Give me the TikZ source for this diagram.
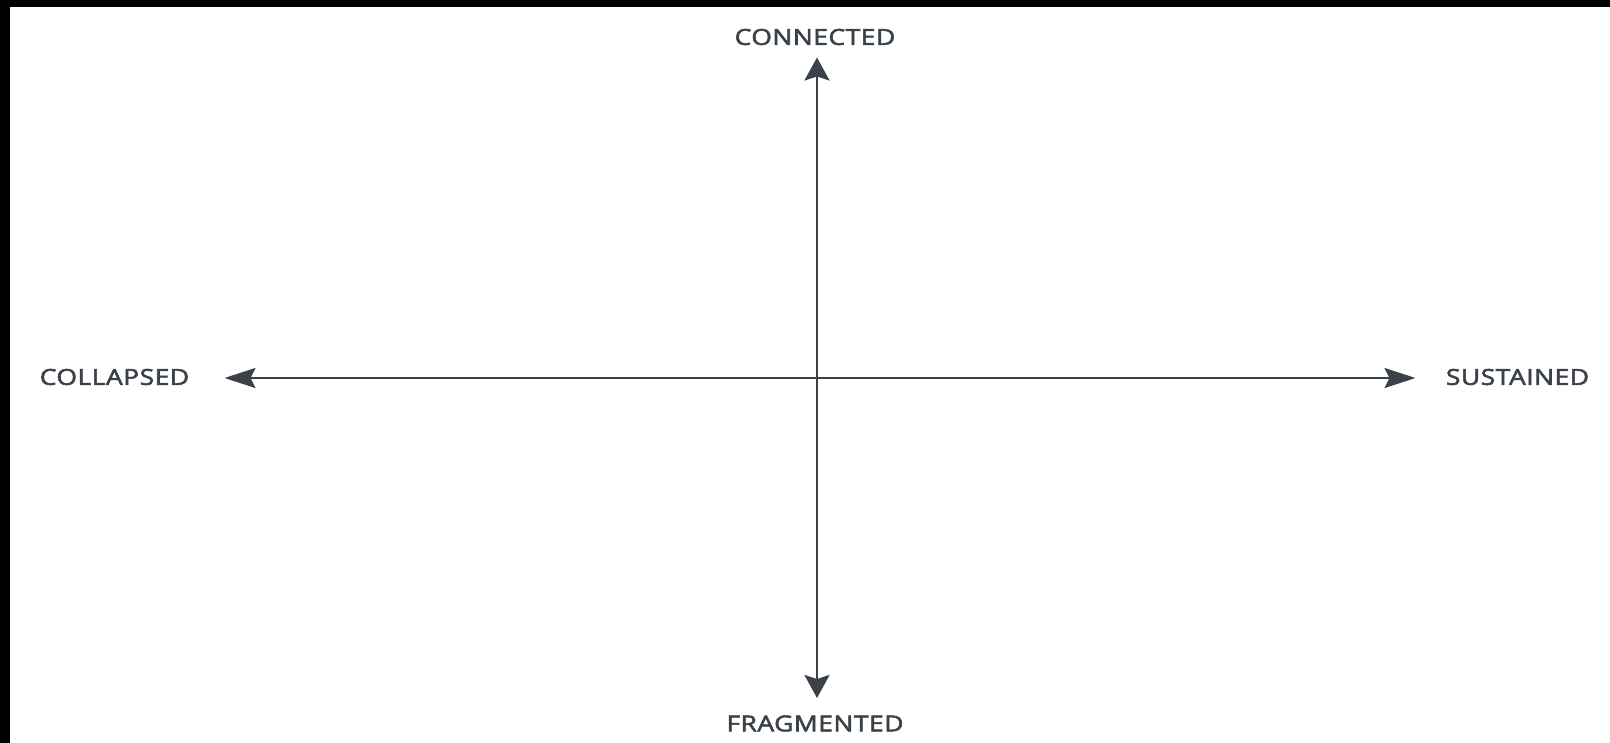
\documentclass[tikz,border=0pt]{standalone}
\usepackage{fontspec}
\newfontfamily\lblfont{Open Sans}[LetterSpace=2, FakeBold=2.2]
\usetikzlibrary{arrows.meta}
\definecolor{axis}{HTML}{3B4149}
\tikzset{
  vaxis/.style={draw=axis, line width=2.8pt, {Stealth[length=23pt,width=25pt,inset=4pt]}-{Stealth[length=23pt,width=25pt,inset=4pt]}},
  haxis/.style={draw=axis, line width=2pt, {Stealth[length=31pt,width=20pt,inset=5pt]}-{Stealth[length=31pt,width=20pt,inset=5pt]}},
  lbl/.style={text=axis, font=\lblfont\fontsize{22}{25}\selectfont, inner sep=0pt}
}
\newcommand{\wide}[1]{\scalebox{1.2}[1]{#1}}
\begin{document}
\begin{tikzpicture}[x=1pt,y=-1pt]
\useasboundingbox (0,0) rectangle (1610,743);
\fill[white] (0,0) rectangle (1610,743);
\fill[black] (0,0) rectangle (1610,7);
\fill[black] (0,0) rectangle (10,743);
\node[lbl] (con) at (815,37) {\wide{CONNECTED}};
\node[lbl] (fra) at (815,723.5) {\wide{FRAGMENTED}};
\node[lbl] (col) at (114.5,377) {\wide{COLLAPSED}};
\node[lbl] (sus) at (1517.5,377) {\wide{SUSTAINED}};
\coordinate (top) at (817,57.5);
\coordinate (bot) at (817,698);
\coordinate (lft) at (224.5,378);
\coordinate (rgt) at (1415.5,378);
\draw[vaxis] (bot) -- (top);
\draw[haxis] (lft) -- (rgt);
\end{tikzpicture}
\end{document}
